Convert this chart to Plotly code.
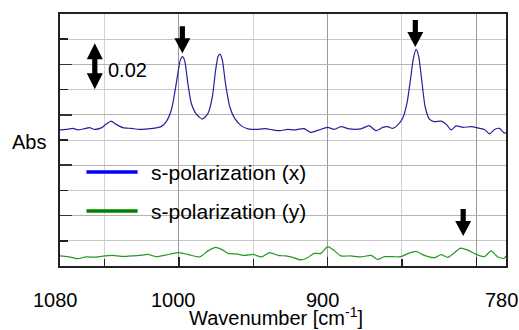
import plotly.graph_objects as go

# ---------------- data ----------------
blue_wn = [1080.0, 1075.9, 1071.4, 1068.0, 1063.5, 1060.2, 1056.8, 1052.3, 1048.9, 1045.6,
           1042.2, 1037.7, 1032.1, 1026.5, 1020.9, 1015.2, 1011.9, 1008.5, 1005.1, 1002.9,
           1000.7, 999.1, 997.5, 996.0, 994.0, 991.7, 988.3, 984.2, 980.4, 977.5,
           975.3, 973.7, 972.4, 970.8, 968.7, 965.8, 962.5, 958.0, 953.5, 947.8,
           942.3, 936.7, 932.1, 927.0, 922.5, 915.8, 911.3, 905.7, 900.0, 895.5,
           891.0, 885.4, 877.6, 872.0, 867.5, 862.9, 859.6, 856.2, 852.8, 849.5,
           846.6, 844.3, 842.3, 840.5, 838.7, 836.7, 834.4, 831.5, 828.2, 823.6,
           820.3, 816.9, 813.5, 809.0, 803.4, 797.8, 794.5, 791.1, 787.7, 784.4,
           781.0, 780.0]
blue_abs = [0.0540, 0.0542, 0.0546, 0.0540, 0.0545, 0.0549, 0.0542, 0.0548, 0.0563, 0.0575,
            0.0562, 0.0549, 0.0546, 0.0542, 0.0544, 0.0548, 0.0553, 0.0573, 0.0619, 0.0685,
            0.0765, 0.0817, 0.0831, 0.0811, 0.0725, 0.0646, 0.0603, 0.0583, 0.0606, 0.0672,
            0.0778, 0.0831, 0.0841, 0.0817, 0.0725, 0.0632, 0.0586, 0.0556, 0.0544, 0.0542,
            0.0545, 0.0540, 0.0537, 0.0542, 0.0540, 0.0545, 0.0530, 0.0540, 0.0550, 0.0542,
            0.0553, 0.0544, 0.0544, 0.0557, 0.0537, 0.0550, 0.0553, 0.0546, 0.0560, 0.0586,
            0.0646, 0.0738, 0.0824, 0.0860, 0.0831, 0.0738, 0.0632, 0.0583, 0.0573, 0.0575,
            0.0563, 0.0540, 0.0556, 0.0550, 0.0553, 0.0546, 0.0542, 0.0524, 0.0542, 0.0546,
            0.0527, 0.0530]

green_wn = [1080.0, 1074.8, 1068.0, 1062.4, 1055.7, 1050.0, 1044.5, 1038.8, 1032.1, 1026.5,
            1020.9, 1015.2, 1008.5, 1000.7, 994.0, 986.1, 980.5, 975.3, 970.4, 967.0,
            961.3, 955.7, 950.1, 944.5, 938.9, 933.3, 928.1, 924.7, 918.0, 913.5,
            909.0, 904.5, 900.0, 896.6, 891.0, 884.3, 877.6, 870.8, 866.3, 861.8,
            856.2, 850.6, 846.1, 840.5, 834.9, 828.2, 823.6, 819.1, 814.6, 810.6,
            805.6, 800.0, 794.5, 790.0, 785.5, 781.4, 780.0]
green_abs = [0.0040, 0.0037, 0.0029, 0.0036, 0.0035, 0.0040, 0.0042, 0.0038, 0.0040, 0.0042,
             0.0046, 0.0037, 0.0044, 0.0053, 0.0046, 0.0036, 0.0060, 0.0074, 0.0063, 0.0050,
             0.0048, 0.0042, 0.0046, 0.0036, 0.0053, 0.0042, 0.0040, 0.0036, 0.0024, 0.0033,
             0.0050, 0.0050, 0.0077, 0.0066, 0.0040, 0.0040, 0.0036, 0.0042, 0.0026, 0.0037,
             0.0037, 0.0037, 0.0049, 0.0058, 0.0042, 0.0033, 0.0045, 0.0034, 0.0053, 0.0071,
             0.0063, 0.0046, 0.0037, 0.0060, 0.0036, 0.0030, 0.0040]

series_names = ["s-polarization (x)", "s-polarization (y)"]
x_tick_values = [1080, 1000, 900, 780]
x_tick_labels = ["1080", "1000", "900", "780"]

# peak markers (wavenumber, absorbance at arrow tip)
arrow_wn = [997.7, 841.0, 808.8]
arrow_abs = [0.0844, 0.0869, 0.0119]
scale_wn = 1056.6
scale_top_abs = 0.0884
scale_label = "0.02"
scale_label_wn = 1048.0
scale_label_abs = 0.0778
legend_line_wn = [1062.2, 1027.8]
legend_text_wn = 1019.1
legend_abs = [0.0373, 0.0218]

FONT = "Liberation Sans, Arial, sans-serif"

fig = go.Figure()
fig.add_trace(go.Scatter(x=blue_wn, y=blue_abs, mode="lines", showlegend=False, hoverinfo="skip",
                         line=dict(color="#22229a", width=1.2, shape="spline", smoothing=0.6)))
fig.add_trace(go.Scatter(x=green_wn, y=green_abs, mode="lines", showlegend=False, hoverinfo="skip",
                         line=dict(color="#229a22", width=1.2, shape="spline", smoothing=0.6)))

shapes = []
arrow_path = "M0,0 L-8,15 L-2.6,15 L-2.6,27 L2.6,27 L2.6,15 L8,15 Z"
for wn, ab in zip(arrow_wn, arrow_abs):
    shapes.append(dict(type="path", xref="x", yref="y", xsizemode="pixel", ysizemode="pixel",
                       xanchor=wn, yanchor=ab, path=arrow_path,
                       fillcolor="black", line=dict(width=0)))
shapes.append(dict(type="path", xref="x", yref="y", xsizemode="pixel", ysizemode="pixel",
                   xanchor=scale_wn, yanchor=scale_top_abs,
                   path="M0,0 L-8,-16 L-2.6,-16 L-2.6,-30 L-8,-30 L0,-46 L8,-30 L2.6,-30 L2.6,-16 L8,-16 Z",
                   fillcolor="black", line=dict(width=0)))
legend_colors = ["#0000ff", "#008000"]
for ab, col in zip(legend_abs, legend_colors):
    shapes.append(dict(type="line", xref="x", yref="y", x0=legend_line_wn[0], x1=legend_line_wn[1],
                       y0=ab, y1=ab, line=dict(color=col, width=3.5)))

annotations = []
for name, ab in zip(series_names, legend_abs):
    annotations.append(dict(x=legend_text_wn, y=ab, xref="x", yref="y", text=name, showarrow=False,
                            xanchor="left", yanchor="middle", xshift=-2,
                            font=dict(size=21, color="black", family=FONT)))
annotations.append(dict(x=scale_label_wn, y=scale_label_abs, xref="x", yref="y", text=scale_label,
                        showarrow=False, xanchor="left", yanchor="middle", xshift=-2,
                        font=dict(size=20, color="black", family=FONT)))
for v, t in zip(x_tick_values, x_tick_labels):
    annotations.append(dict(x=v, y=0, xref="x", yref="paper", text=t, showarrow=False,
                            xanchor="center", yanchor="middle", xshift=-5, yshift=-34,
                            font=dict(size=20, color="black", family=FONT)))
annotations.append(dict(x=0.5, y=0, xref="paper", yref="paper", text="Wavenumber [cm<sup>-1</sup>]",
                        showarrow=False, xanchor="center", yanchor="middle", xshift=-7, yshift=-50,
                        font=dict(size=20, color="black", family=FONT)))
annotations.append(dict(x=0, y=0.5, xref="paper", yref="paper", text="Abs", showarrow=False,
                        xanchor="center", yanchor="middle", xshift=-31, yshift=-2,
                        font=dict(size=20, color="black", family=FONT)))

fig.update_layout(
    width=519, height=330,
    margin=dict(l=60, r=13, t=14, b=64),
    paper_bgcolor="white", plot_bgcolor="white",
    font=dict(family=FONT, size=20, color="black"),
    hovermode=False,
    shapes=shapes, annotations=annotations,
    xaxis=dict(range=[1080, 780], showticklabels=False, tick0=800, dtick=100,
               ticks="inside", ticklen=9, tickcolor="#222", tickwidth=1.5,
               showgrid=True, gridcolor="#9a9a9a", gridwidth=1,
               minor=dict(dtick=50, ticks="inside", ticklen=7, tickcolor="#222",
                          showgrid=True, gridcolor="#d2d2d2", gridwidth=1),
               showline=True, linecolor="#222", linewidth=2, mirror=True, zeroline=False),
    yaxis=dict(range=[0, 0.1], showticklabels=False, tick0=0, dtick=0.02,
               ticks="inside", ticklen=12, tickcolor="#333", tickwidth=1.5,
               showgrid=True, gridcolor="#b4b4b4", gridwidth=1,
               minor=dict(dtick=0.01, ticks="inside", ticklen=8, tickcolor="#222",
                          showgrid=True, gridcolor="#c8c8c8", gridwidth=1),
               showline=True, linecolor="#222", linewidth=2, mirror=True, zeroline=False),
)

fig.write_html("out.html", config={"displayModeBar": False, "staticPlot": True},
               post_script="document.body.style.margin='0';document.body.style.overflow='hidden';")
